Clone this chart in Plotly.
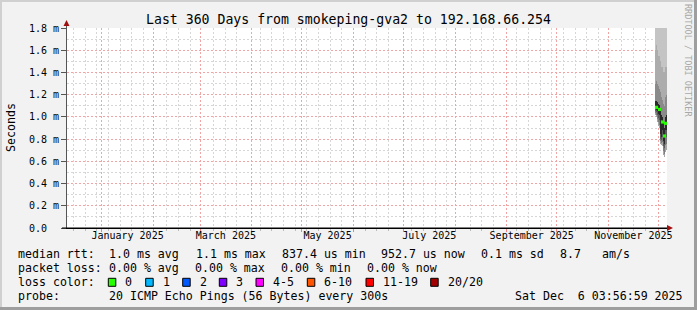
import plotly.graph_objects as go
import pandas as pd

# ---------------- data ----------------
range_start = "2024-12-11 03:56:59"
range_end = "2025-12-06 03:56:59"

sample_times = [
    "2025-11-29 06:21", "2025-11-29 20:45", "2025-11-30 11:09", "2025-12-01 01:33",
    "2025-12-01 15:57", "2025-12-02 06:21", "2025-12-02 20:45", "2025-12-03 11:09",
    "2025-12-04 01:33", "2025-12-04 15:57", "2025-12-05 06:21", "2025-12-05 20:45",
]
# ping RTT distribution per sample (smoke), in milliseconds
rtt_max = [2.0, 2.0, 2.0, 2.0, 2.0, 2.0, 2.0, 2.0, 2.0, 2.0, 1.9, 1.85]
rtt_p90 = [1.60, 1.65, 1.60, 1.55, 1.55, 1.50, 1.45, 1.45, 1.40, 1.40, 1.45, 1.45]
rtt_p75 = [1.30, 1.32, 1.30, 1.28, 1.25, 1.22, 1.18, 1.15, 1.12, 1.10, 1.18, 1.20]
rtt_p60 = [1.14, 1.14, 1.13, 1.12, 1.11, 1.07, 1.02, 1.00, 0.95, 0.90, 1.00, 1.02]
rtt_p40 = [1.07, 1.06, 1.05, 1.03, 1.02, 0.85, 0.82, 0.88, 0.78, 0.76, 0.88, 0.88]
rtt_p25 = [1.05, 1.04, 1.02, 0.99, 0.97, 0.80, 0.79, 0.82, 0.74, 0.72, 0.82, 0.82]
rtt_p10 = [1.03, 1.02, 0.98, 0.95, 0.93, 0.78, 0.76, 0.77, 0.69, 0.67, 0.75, 0.76]
rtt_min = [1.02, 1.00, 0.95, 0.92, 0.90, 0.76, 0.75, 0.74, 0.66, 0.64, 0.68, 0.70]
median_rtt = [None, 1.086, None, None, 1.067, None, None, 0.954, None, 0.828, 0.942, None]

y_tick_vals = [0.0, 0.2, 0.4, 0.6, 0.8, 1.0, 1.2, 1.4, 1.6, 1.8]
y_tick_text = ["0.0\u00a0\u00a0", "0.2 m", "0.4 m", "0.6 m", "0.8 m", "1.0 m",
               "1.2 m", "1.4 m", "1.6 m", "1.8 m"]
y_minor_vals = [0.1, 0.3, 0.5, 0.7, 0.9, 1.1, 1.3, 1.5, 1.7]
month_label_vals = ["2025-01-16 12:00", "2025-03-16 12:00", "2025-05-16 12:00",
                    "2025-07-16 12:00", "2025-09-16 00:00", "2025-11-16 00:00"]
month_label_text = ["January 2025", "March 2025", "May 2025",
                    "July 2025", "September 2025", "November 2025"]

loss_labels = ["0", "1", "2", "3", "4-5", "6-10", "11-19", "20/20"]
loss_colors = ["#26ff00", "#00b8ff", "#0059ff", "#7e00ff", "#ff00ff", "#ff5500", "#ff0000", "#a00000"]

month_grid = pd.date_range("2025-01-01", "2025-12-01", freq="MS")
week_grid_all = pd.date_range("2024-12-15", "2025-12-06", freq="7D")
# drop weekly grid lines that would sit right next to a monthly one
week_grid = [w for w in week_grid_all
             if min(abs((w - m).total_seconds()) for m in month_grid) > 2.5 * 86400]

# ---------------- geometry helpers (pixel -> paper) ----------------
W, H = 697, 310
PL, PR, PT, PB = 67, 667, 28, 228


def px(x):
    return (x - PL) / (PR - PL)


def py(y):
    return (PB - y) / (PB - PT)


MONO = "DejaVu Sans Mono"
col_width_ms = 0.6 * 86400000
RED_GRID = "#f2a4a4"
GRAY_GRID = "#d6d6d6"
GRID_DASH = "2px,2px"

fig = go.Figure()

bands = [
    (rtt_p90, rtt_max, "#c4c4c4"),
    (rtt_p75, rtt_p90, "#acacac"),
    (rtt_p60, rtt_p75, "#8a8a8a"),
    (rtt_p40, rtt_p60, "#2a2a2a"),
    (rtt_p25, rtt_p40, "#5a5a5a"),
    (rtt_p10, rtt_p25, "#7e7e7e"),
    (rtt_min, rtt_p10, "#a6a6a6"),
]
for lo, hi, c in bands:
    fig.add_trace(go.Bar(
        x=sample_times, base=lo, y=[h - l for l, h in zip(lo, hi)],
        width=col_width_ms, marker=dict(color=c, line=dict(width=0)),
        showlegend=False, hoverinfo="skip"))

fig.add_trace(go.Scatter(
    x=sample_times, y=median_rtt, mode="markers",
    marker=dict(symbol="square", size=3.2, color=loss_colors[0], line=dict(width=0)),
    showlegend=False, hoverinfo="skip"))

fig.add_trace(go.Scatter(x=[range_start, range_end], y=[None, None], xaxis="x2",
                         mode="lines", showlegend=False, hoverinfo="skip"))

fig.update_layout(
    width=W, height=H,
    margin=dict(l=PL, r=W - PR, t=PT, b=H - PB, pad=0),
    paper_bgcolor="#f2f2f2", plot_bgcolor="#ffffff",
    barmode="overlay", bargap=0,
    font=dict(family=MONO, size=10, color="#000000"),
    xaxis=dict(
        type="date", range=[range_start, range_end],
        tickmode="array", tickvals=list(month_grid), showticklabels=False,
        showgrid=True, gridcolor=RED_GRID, griddash=GRID_DASH, gridwidth=1,
        ticks="outside", ticklen=3, tickcolor="#f08080",
        minor=dict(tickmode="array", tickvals=list(week_grid), showgrid=True,
                   gridcolor=GRAY_GRID, griddash=GRID_DASH, ticks="outside",
                   ticklen=2, tickcolor="#bbbbbb"),
        showline=True, linecolor="#000000", linewidth=1,
        zeroline=False, fixedrange=True,
    ),
    xaxis2=dict(
        type="date", range=[range_start, range_end], overlaying="x", anchor="y",
        side="bottom", tickmode="array", tickvals=month_label_vals, ticktext=month_label_text,
        showgrid=False, showline=False, ticks="", zeroline=False,
        tickfont=dict(family=MONO, size=10, color="#000000"),
    ),
    yaxis=dict(
        range=[0, 1.8], tickmode="array", tickvals=y_tick_vals, ticktext=y_tick_text,
        showgrid=True, gridcolor=RED_GRID, griddash=GRID_DASH, gridwidth=1,
        minor=dict(tickmode="array", tickvals=y_minor_vals, showgrid=True,
                   gridcolor=GRAY_GRID, griddash=GRID_DASH),
        ticks="outside", ticklen=5, tickcolor="#555555",
        showline=True, linecolor="#555555", linewidth=1, zeroline=False,
        tickfont=dict(family=MONO, size=10, color="#000000"),
        fixedrange=True,
    ),
)

shapes = []
# frame
shapes.append(dict(type="rect", xref="paper", yref="paper", x0=px(0), x1=px(697), y0=py(0), y1=py(2),
                   fillcolor="#d0d0d0", line=dict(width=0), layer="below"))
shapes.append(dict(type="rect", xref="paper", yref="paper", x0=px(0), x1=px(2), y0=py(0), y1=py(310),
                   fillcolor="#d0d0d0", line=dict(width=0), layer="below"))
shapes.append(dict(type="rect", xref="paper", yref="paper", x0=px(0), x1=px(697), y0=py(307), y1=py(310),
                   fillcolor="#9e9e9e", line=dict(width=0), layer="below"))
shapes.append(dict(type="rect", xref="paper", yref="paper", x0=px(694), x1=px(697), y0=py(0), y1=py(310),
                   fillcolor="#9e9e9e", line=dict(width=0), layer="below"))
# axis extensions + arrow heads
shapes.append(dict(type="line", xref="paper", yref="paper", x0=px(66.5), x1=px(66.5), y0=py(228), y1=py(24),
                   line=dict(color="#555555", width=1)))
shapes.append(dict(type="line", xref="paper", yref="paper", x0=px(62), x1=px(668), y0=py(228), y1=py(228),
                   line=dict(color="#000000", width=1)))
shapes.append(dict(type="path", xref="paper", yref="paper",
                   path=f"M {px(66.5)},{py(20)} L {px(63.5)},{py(26)} L {px(69.5)},{py(26)} Z",
                   fillcolor="#a01010", line=dict(width=0)))
shapes.append(dict(type="path", xref="paper", yref="paper",
                   path=f"M {px(673)},{py(228)} L {px(667)},{py(225)} L {px(667)},{py(231)} Z",
                   fillcolor="#a01010", line=dict(width=0)))

annotations = []


def txt(x, y, s, size=11.6, anchor="left", color="#000000", angle=0):
    annotations.append(dict(xref="paper", yref="paper", x=px(x), y=py(y), text=s,
                            showarrow=False, xanchor=anchor, yanchor="middle",
                            textangle=angle,
                            font=dict(family=MONO, size=size, color=color)))


txt(348.5, 19.5, "Last 360 Days from smokeping-gva2 to 192.168.66.254", size=13.2, anchor="center")
txt(11, 128, "Seconds", size=11.6, anchor="center", angle=-90)
txt(688, 60, "RRDTOOL / TOBI OETIKER", size=8.5, anchor="center", color="#a8a8a8", angle=90)

row1 = 254.3
for x, s in [(16, "median rtt:"), (107, "1.0 ms avg"), (194, "1.1 ms max"), (280, "837.4 us min"),
             (379, "952.7 us now"), (479, "0.1 ms sd"), (558, "8.7"), (600, "am/s")]:
    txt(x, row1, s)
row2 = 268.3
for x, s in [(16, "packet loss:"), (107, "0.00 % avg"), (193.3, "0.00 % max"),
             (279.3, "0.00 % min"), (365, "0.00 % now")]:
    txt(x, row2, s)
row3 = 282.3
txt(16, row3, "loss color:")
box_x = [108.3, 145.7, 182.7, 219.3, 256, 307.3, 366, 430.7]
for bx, lab, col in zip(box_x, loss_labels, loss_colors):
    shapes.append(dict(type="rect", xref="paper", yref="paper", x0=px(bx), x1=px(bx + 7.5),
                       y0=py(278.3), y1=py(286.3), fillcolor=col,
                       line=dict(color="#000000", width=1)))
    txt(bx + 15, row3, lab)
row4 = 296.2
txt(16, row4, "probe:")
txt(107.3, row4, "20 ICMP Echo Pings (56 Bytes) every 300s")
txt(512.7, row4, "Sat Dec\u00a0\u00a06 03:56:59 2025")

fig.update_layout(shapes=shapes, annotations=annotations)
fig.write_html("out.html")
